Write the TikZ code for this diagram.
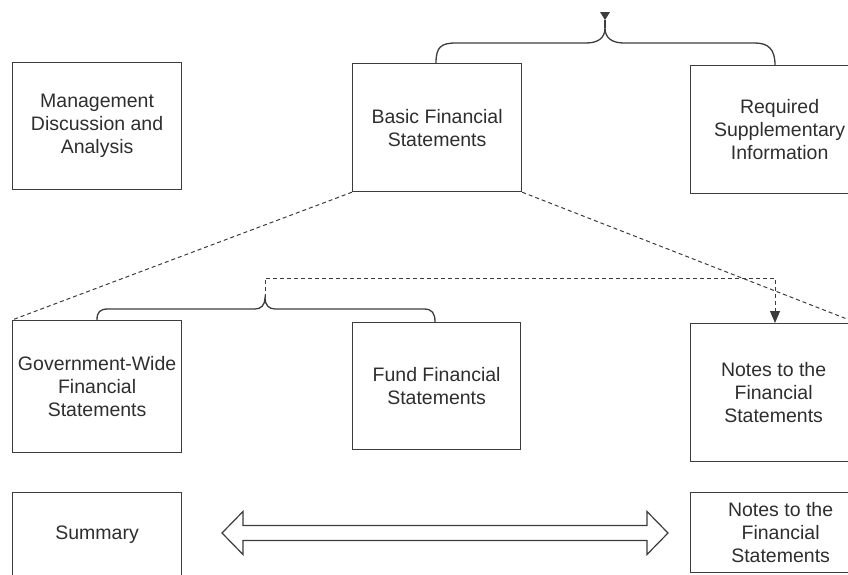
\documentclass[tikz,border=0pt]{standalone}
\usepackage{fontspec}
\setmainfont{Liberation Sans}
\usetikzlibrary{arrows.meta}
\definecolor{ink}{HTML}{3C3C3C}
\definecolor{txt}{HTML}{2E2E2E}
\tikzset{
  box/.style={draw=ink, line width=1.2pt, anchor=north west, align=center,
    inner sep=1pt, text=txt, font=\fontsize{19.5}{23}\selectfont},
  solidline/.style={draw=ink, line width=1.3pt},
  dashline/.style={draw=ink, line width=1pt, dash pattern=on 4pt off 3pt},
}
\begin{document}
\begin{tikzpicture}[x=1pt, y=-1pt]
\useasboundingbox (0,0) rectangle (848,574);
\clip (0,0) rectangle (848,574);
% boxes
\node[box, minimum width=169pt, minimum height=127pt] (mda) at (12,62) {Management\\Discussion and\\Analysis};
\node[box, minimum width=169pt, minimum height=128pt] (bfs) at (352,63) {Basic Financial\\Statements};
\node[box, minimum width=178pt, minimum height=128pt] (rsi) at (690,65) {Required\\Supplementary\\Information};
\node[box, minimum width=169pt, minimum height=132pt] (gov) at (12,320) {Government-Wide\\Financial\\Statements};
\node[box, minimum width=168pt, minimum height=127pt] (fund) at (352,322) {Fund Financial\\Statements};
\node[box, minimum width=166pt, minimum height=138pt] (notesA) at (690,323) {Notes to the\\Financial\\Statements};
\node[box, minimum width=169pt, minimum height=84pt] (summ) at (12,492) {Summary};
\node[box, minimum width=180pt, minimum height=80pt] (notesB) at (690,492) {Notes to the\\Financial\\Statements};
% top brace
\coordinate (tbL) at (436,63);
\coordinate (tbR) at (775,65);
\coordinate (tbTip) at (605,28);
\coordinate (tbHead) at (605,20);
\draw[solidline] (tbL) .. controls (436,47) and (441,43) .. (456,43) -- (586,43)
  .. controls (598,43) and (605,38) .. (tbTip)
  .. controls (605,38) and (612,43) .. (624,43) -- (755,43)
  .. controls (769,43) and (775,50) .. (tbR);
\draw[solidline] (tbTip) -- (tbHead);
\fill[ink] (tbHead) -- (600,12) -- (610,12) -- cycle;
% middle brace
\coordinate (mbL) at (97,320);
\coordinate (mbR) at (435,322);
\coordinate (mbTip) at (265,298);
\draw[solidline] (mbL) .. controls (97,312) and (100,309) .. (108,309) -- (255,309)
  .. controls (261,309) and (265,305) .. (mbTip)
  .. controls (265,305) and (269,309) .. (275,309) -- (424,309)
  .. controls (432,309) and (435,313) .. (mbR);
% dashed connector to notes
\coordinate (dc1) at (265,278);
\coordinate (dc2) at (775,278);
\draw[dashline, -{Triangle[length=12pt,width=10pt]}] (mbTip) -- (dc1) -- (dc2) -- (dc2 |- notesA.north);
% dashed expansion lines
\draw[dashline] (bfs.south west) -- (gov.north west);
\draw[dashline] (bfs.south east) -- (notesA.north east);
% double arrow
\draw[solidline, line width=1.2pt, line join=miter] (222,533) -- (243,511.5) -- (243,525.5) -- (647,525.5) -- (647,511.5)
  -- (668,533) -- (647,554.5) -- (647,540.5) -- (243,540.5) -- (243,554.5) -- cycle;
\end{tikzpicture}
\end{document}
